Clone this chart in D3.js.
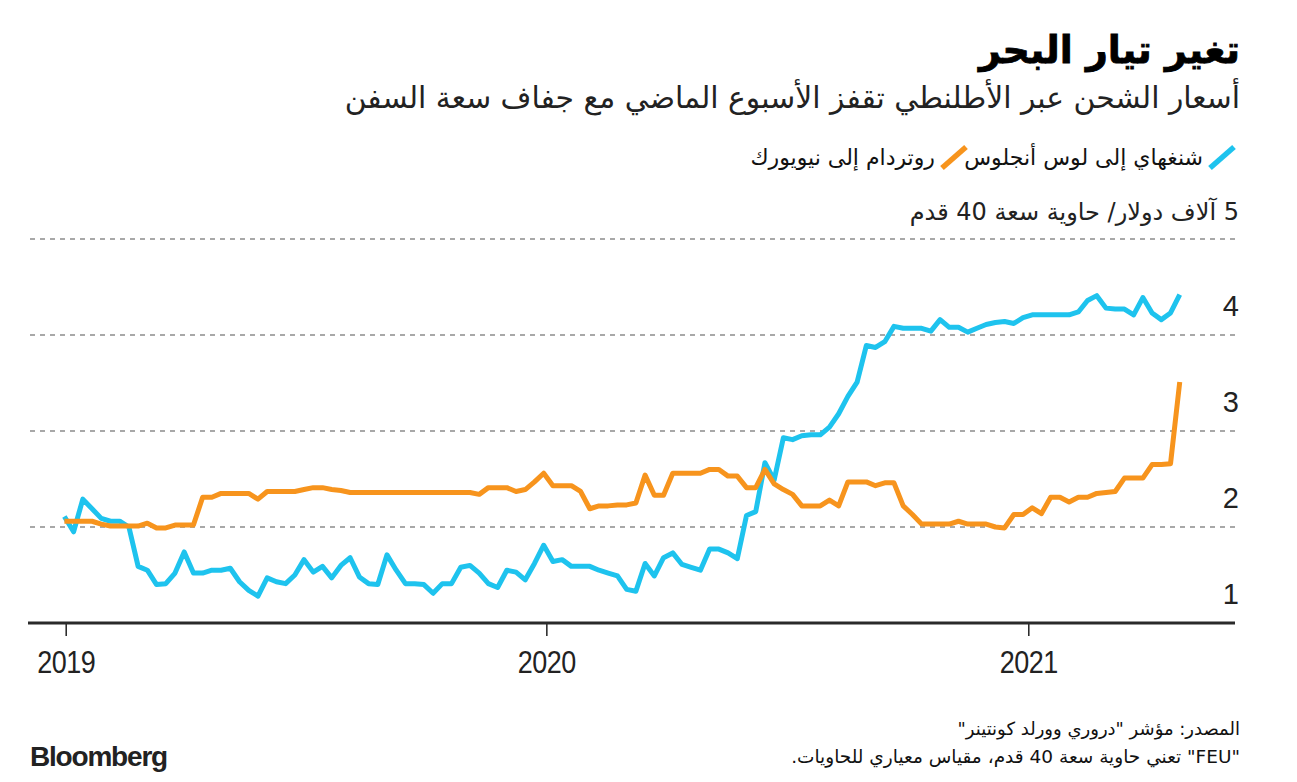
<!DOCTYPE html>
<html lang="ar">
<head>
<meta charset="utf-8">
<script src="https://cdn.jsdelivr.net/npm/d3@7"></script>
<style>
  html, body { margin: 0; padding: 0; background: #fff; }
  svg { display: block; }
  .ar { font-family: "DejaVu Sans", "Noto Sans", sans-serif; }
</style>
</head>
<body>
<svg id="chart" width="1297" height="782"></svg>
<script>
// ---------------- DATA ----------------
const startDate = "2018-12-31";   // first weekly observation
const xTickLabels = ["2019", "2020", "2021"];
const yTickValues = [1, 2, 3, 4, 5];
const yTickLabels = ["1", "2", "3", "4", "5 آلاف دولار/ حاوية سعة 40 قدم"];

const seriesNames = ["شنغهاي إلى لوس أنجلوس", "روتردام إلى نيويورك"];

// Shanghai -> Los Angeles, thousand $ per FEU, weekly
const shanghaiLA = [
  2.11,1.95,2.29,2.19,2.09,2.06,2.06,2.00,1.59,1.55,
  1.40,1.41,1.52,1.74,1.52,1.52,1.55,1.55,1.57,1.43,
  1.34,1.28,1.47,1.43,1.41,1.50,1.66,1.53,1.59,1.47,
  1.60,1.68,1.48,1.41,1.40,1.71,1.55,1.41,1.41,1.40,
  1.31,1.41,1.41,1.58,1.60,1.52,1.41,1.37,1.55,1.53,
  1.45,1.62,1.81,1.64,1.66,1.59,1.59,1.59,1.55,1.52,
  1.49,1.35,1.33,1.62,1.49,1.68,1.73,1.61,1.58,1.55,
  1.77,1.77,1.73,1.67,2.12,2.16,2.67,2.49,2.93,2.91,
  2.95,2.96,2.96,3.04,3.18,3.36,3.51,3.89,3.87,3.93,
  4.09,4.07,4.07,4.07,4.04,4.16,4.08,4.08,4.03,4.07,
  4.11,4.13,4.14,4.12,4.18,4.21,4.21,4.21,4.21,4.21,
  4.24,4.36,4.41,4.28,4.27,4.27,4.21,4.39,4.23,4.16,
  4.23,4.42
];

// Rotterdam -> New York, thousand $ per FEU, weekly
const rotterdamNY = [
  2.06,2.06,2.06,2.06,2.03,2.01,2.01,2.01,2.01,2.04,
  1.99,1.99,2.02,2.02,2.02,2.31,2.31,2.35,2.35,2.35,
  2.35,2.29,2.37,2.37,2.37,2.37,2.39,2.41,2.41,2.39,
  2.38,2.36,2.36,2.36,2.36,2.36,2.36,2.36,2.36,2.36,
  2.36,2.36,2.36,2.36,2.36,2.34,2.41,2.41,2.41,2.37,
  2.39,2.47,2.56,2.43,2.43,2.43,2.37,2.19,2.22,2.22,
  2.23,2.23,2.25,2.54,2.33,2.33,2.56,2.56,2.56,2.56,
  2.60,2.60,2.53,2.53,2.41,2.41,2.60,2.45,2.39,2.34,
  2.22,2.22,2.22,2.28,2.22,2.47,2.47,2.47,2.43,2.46,
  2.46,2.22,2.13,2.03,2.03,2.03,2.03,2.06,2.03,2.03,
  2.03,2.00,1.99,2.13,2.13,2.20,2.14,2.31,2.31,2.26,
  2.31,2.31,2.35,2.36,2.37,2.51,2.51,2.51,2.65,2.65,
  2.66,3.51
];

const titleText = "تغير تيار البحر";
const subtitleText = "أسعار الشحن عبر الأطلنطي تقفز الأسبوع الماضي مع جفاف سعة السفن";
const sourceText1 = "المصدر: مؤشر \"دروري وورلد كونتينر\"";
const sourceText2 = "\"FEU\" تعني حاوية سعة 40 قدم، مقياس معياري للحاويات.";
const brandText = "Bloomberg";

// ---------------- BUILD ----------------
const colors = ["#1ec3ee", "#f7941d"];
const parse = d3.timeParse("%Y-%m-%d");
const t0 = parse(startDate);
const dates = shanghaiLA.map((_, i) => d3.timeDay.offset(t0, i * 7));

const svg = d3.select("#chart");

const x = d3.scaleTime()
  .domain([parse("2019-01-01"), parse("2021-01-01")])
  .range([65.7, 1028.3]);
const y = d3.scaleLinear().domain([1, 5]).range([623, 239]);

// Title / subtitle
svg.append("text").attr("class", "ar")
  .attr("x", 1240).attr("y", 63)
  .attr("direction", "rtl").attr("text-anchor", "start")
  .attr("font-size", 38).attr("font-weight", "bold").attr("fill", "#000")
  .attr("stroke", "#000").attr("stroke-width", 0.8)
  .text(titleText);

svg.append("text").attr("class", "ar")
  .attr("x", 1240).attr("y", 108)
  .attr("direction", "rtl").attr("text-anchor", "start")
  .attr("font-size", 29.8).attr("fill", "#222")
  .text(subtitleText);

// Legend
const legend = svg.append("g");
const legendItems = [
  { name: seriesNames[0], color: colors[0], x: 1234 },
  { name: seriesNames[1], color: colors[1], x: 966 }
];
legendItems.forEach(it => {
  legend.append("line")
    .attr("x1", it.x - 24).attr("y1", 168)
    .attr("x2", it.x).attr("y2", 147)
    .attr("stroke", it.color).attr("stroke-width", 5.5);
  legend.append("text").attr("class", "ar")
    .attr("x", it.x - 31).attr("y", 165)
    .attr("direction", "rtl").attr("text-anchor", "start")
    .attr("font-size", 22).attr("fill", "#111")
    .text(it.name);
});

// Gridlines
const grid = svg.append("g");
yTickValues.filter(v => v > 1).forEach(v => {
  grid.append("line")
    .attr("x1", 30).attr("x2", 1235)
    .attr("y1", y(v)).attr("y2", y(v))
    .attr("stroke", "#a8a8a8").attr("stroke-width", 2)
    .attr("stroke-dasharray", "5,5");
});

// Y labels
yTickValues.forEach((v, i) => {
  const isUnit = i === yTickValues.length - 1;
  svg.append("text")
    .attr("class", isUnit ? "ar" : null)
    .attr("x", 1239).attr("y", y(v) - 19)
    .attr("direction", isUnit ? "rtl" : "ltr")
    .attr("text-anchor", isUnit ? "start" : "end")
    .attr("font-family", isUnit ? null : "'Liberation Sans', Arial, sans-serif")
    .attr("font-size", isUnit ? 24 : 29)
    .attr("fill", "#222")
    .text(yTickLabels[i]);
});

// X axis
const xAxis = d3.axisBottom(x)
  .tickValues(xTickLabels.map(s => parse(s + "-01-01")))
  .tickFormat(d3.timeFormat("%Y"))
  .tickSize(13).tickPadding(14);
const gx = svg.append("g").attr("transform", `translate(0,${y(1)})`).call(xAxis);
gx.select(".domain").remove();
gx.selectAll(".tick line").attr("stroke", "#222").attr("stroke-width", 1.5);
gx.selectAll(".tick text")
  .attr("font-family", "'Liberation Sans Narrow', 'Liberation Sans', Arial, sans-serif")
  .attr("font-size", 29).attr("fill", "#222")
  .attr("transform", "scale(0.93,1.06)")
  .attr("letter-spacing", -0.5);
svg.append("line")
  .attr("x1", 28).attr("x2", 1235)
  .attr("y1", y(1)).attr("y2", y(1))
  .attr("stroke", "#2a2a2a").attr("stroke-width", 3);

// Lines
const line = d3.line()
  .x((d, i) => x(dates[i]))
  .y(d => y(d));
[shanghaiLA, rotterdamNY].forEach((s, k) => {
  svg.append("path")
    .datum(s)
    .attr("fill", "none")
    .attr("stroke", colors[k])
    .attr("stroke-width", 5)
    .attr("stroke-linejoin", "round")
    .attr("d", line);
});

// Footer
svg.append("text").attr("class", "ar")
  .attr("x", 1240).attr("y", 735)
  .attr("direction", "rtl").attr("text-anchor", "start")
  .attr("font-size", 18).attr("fill", "#111")
  .text(sourceText1);
svg.append("text").attr("class", "ar")
  .attr("x", 1240).attr("y", 763)
  .attr("direction", "rtl").attr("text-anchor", "start")
  .attr("font-size", 18.5).attr("fill", "#111")
  .text(sourceText2);
svg.append("text")
  .attr("x", 30).attr("y", 766)
  .attr("font-family", "'Liberation Sans Narrow', 'Liberation Sans', Arial, sans-serif")
  .attr("font-weight", "bold").attr("font-size", 28).attr("fill", "#222")
  .attr("letter-spacing", -1.2)
  .text(brandText);
</script>
</body>
</html>
